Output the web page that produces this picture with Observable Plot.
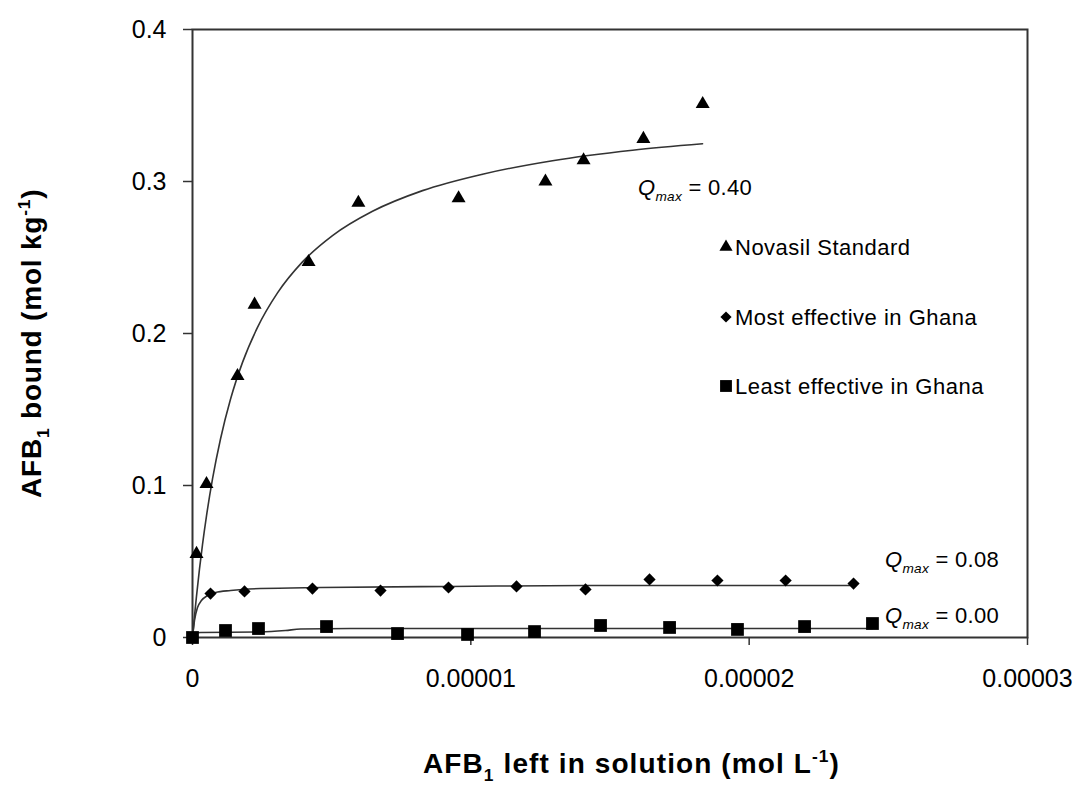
<!DOCTYPE html>
<html>
<head>
<meta charset="utf-8">
<script src="https://cdn.jsdelivr.net/npm/d3@7"></script>
<script src="https://cdn.jsdelivr.net/npm/@observablehq/plot@0.6"></script>
<style>
  html, body { margin: 0; padding: 0; background: #fff; }
  #chart svg { display: block; }
</style>
</head>
<body>
<div id="chart"></div>
<script>
// ---- tick labels ----
const xTicks = [0, 0.00001, 0.00002, 0.00003];
const xTickLabels = ["0", "0.00001", "0.00002", "0.00003"];
const yTicks = [0, 0.1, 0.2, 0.3, 0.4];
const yTickLabels = ["0", "0.1", "0.2", "0.3", "0.4"];

// ---- series names ----
const seriesNames = ["Novasil Standard", "Most effective in Ghana", "Least effective in Ghana"];
const qmaxLabels = ["0.40", "0.08", "0.00"];

// ---- measured points ----
const novasilX = [1.44e-7, 5.03e-7, 1.617e-6, 2.23e-6, 4.17e-6, 5.96e-6, 9.56e-6, 1.268e-5, 1.405e-5, 1.62e-5, 1.833e-5];
const novasilY = [0.055, 0.101, 0.172, 0.219, 0.247, 0.286, 0.289, 0.300, 0.314, 0.328, 0.351];

const mostX = [6.47e-7, 1.868e-6, 4.31e-6, 6.755e-6, 9.198e-6, 1.1641e-5, 1.412e-5, 1.642e-5, 1.886e-5, 2.131e-5, 2.375e-5];
const mostY = [0.0289, 0.0303, 0.0322, 0.0309, 0.0329, 0.0336, 0.0316, 0.0382, 0.0375, 0.0375, 0.0355];

const leastX = [0, 1.186e-6, 2.371e-6, 4.815e-6, 7.366e-6, 9.881e-6, 1.2288e-5, 1.466e-5, 1.714e-5, 1.958e-5, 2.199e-5, 2.443e-5];
const leastY = [0, 0.0046, 0.0059, 0.0072, 0.0026, 0.0020, 0.0039, 0.0079, 0.0066, 0.0053, 0.0072, 0.0092];

// ---- fitted curves ----
const novFitX = [0, 7.19e-8, 1.437e-7, 2.515e-7, 3.593e-7, 5.03e-7, 7.19e-7, 1.006e-6, 1.365e-6, 1.797e-6, 2.335e-6, 3.054e-6, 3.952e-6, 5.03e-6, 6.467e-6, 8.264e-6, 1.042e-5, 1.2935e-5, 1.581e-5, 1.8325e-5];
const novFitY = [0, 0.0142, 0.0272, 0.0451, 0.0611, 0.0800, 0.1043, 0.1306, 0.1567, 0.1810, 0.2040, 0.2267, 0.2471, 0.2644, 0.2804, 0.2940, 0.3048, 0.3137, 0.3206, 0.3248];

const mostFitX = [0, 7.2e-8, 1.8e-7, 3.2e-7, 5.4e-7, 8.3e-7, 1.37e-6, 2.44e-6, 4.6e-6, 9.27e-6, 1.466e-5, 2.375e-5];
const mostFitY = [0, 0.0112, 0.0197, 0.0243, 0.0276, 0.0296, 0.0309, 0.0322, 0.0329, 0.0336, 0.0342, 0.0342];

const leastFitX = [0, 1.08e-7, 2.87e-7, 2.44e-6, 3.34e-6, 3.88e-6, 5.67e-6, 2.443e-5];
const leastFitY = [0, 0.0026, 0.0033, 0.0036, 0.0046, 0.0056, 0.0059, 0.0059];

const pts = (xs, ys) => xs.map((x, i) => ({x, y: ys[i]}));

const INK = "#000";
const LINE = "#333";
const FONT = "'Liberation Sans', Arial, sans-serif";

const svg = Plot.plot({
  width: 1079,
  height: 787,
  marginLeft: 192,
  marginRight: 52,
  marginTop: 29,
  marginBottom: 150,
  style: {fontFamily: FONT, fontSize: "24px", color: INK, background: "#fff", overflow: "visible"},
  x: {domain: [0, 0.00003], label: null},
  y: {domain: [0, 0.4], label: null},
  marks: [
    Plot.frame({stroke: LINE, strokeWidth: 2}),
    Plot.axisX({ticks: xTicks, tickFormat: d => xTickLabels[xTicks.indexOf(d)], tickSize: 8, tickPadding: 24, label: null, stroke: LINE, strokeWidth: 1.5, fontSize: 25}),
    Plot.axisY({ticks: yTicks, tickFormat: d => yTickLabels[yTicks.indexOf(d)], tickSize: 9, tickPadding: 17, label: null, stroke: LINE, strokeWidth: 1.5, fontSize: 25}),
    Plot.line(pts(novFitX, novFitY), {x: "x", y: "y", curve: "monotone-x", stroke: LINE, strokeWidth: 1.6}),
    Plot.line(pts(mostFitX, mostFitY), {x: "x", y: "y", curve: "monotone-x", stroke: LINE, strokeWidth: 1.6}),
    Plot.line(pts(leastFitX, leastFitY), {x: "x", y: "y", curve: "monotone-x", stroke: LINE, strokeWidth: 1.6}),
    Plot.dot(pts(novasilX, novasilY), {x: "x", y: "y", symbol: "triangle", r: 5.2, fill: INK, stroke: "none"}),
    Plot.dot(pts(mostX, mostY), {x: "x", y: "y", symbol: "diamond2", r: 5.5, fill: INK, stroke: "none"}),
    Plot.dot(pts(leastX, leastY), {x: "x", y: "y", symbol: "square", r: 7.2, fill: INK, stroke: "none"})
  ]
});

document.getElementById("chart").appendChild(svg);

// ---- text helpers ----
const root = d3.select(svg);
function richText(g, parts, base) {
  const t = g.append("text")
    .attr("font-family", FONT)
    .attr("font-size", base.size)
    .attr("font-weight", base.weight || "normal")
    .attr("letter-spacing", base.spacing || 0)
    .attr("fill", INK)
    .attr("text-anchor", base.anchor || "start");
  let shift = 0;
  for (const p of parts) {
    const s = t.append("tspan").text(p.t);
    const target = p.sub ? base.size * 0.28 : p.sup ? -base.size * 0.38 : 0;
    if (target !== shift) { s.attr("dy", target - shift); shift = target; }
    if (p.sub || p.sup) s.attr("font-size", base.size * 0.62);
    if (p.italic) s.attr("font-style", "italic");
  }
  return t;
}

// axis titles
richText(root.append("g").attr("transform", "translate(423,773)"),
  [{t: "AFB"}, {t: "1", sub: true}, {t: " left in solution (mol L"}, {t: "-1", sup: true}, {t: ")"}],
  {size: 28, weight: "bold", spacing: 1.1});
richText(root.append("g").attr("transform", "translate(41,498) rotate(-90)"),
  [{t: "AFB"}, {t: "1", sub: true}, {t: " bound (mol kg"}, {t: "-1", sup: true}, {t: ")"}],
  {size: 28, weight: "bold", spacing: 0.8});

// Qmax annotations
const qPos = [[638, 195], [885, 567], [885, 623]];
qmaxLabels.forEach((v, i) => {
  richText(root.append("g").attr("transform", `translate(${qPos[i][0]},${qPos[i][1]})`),
    [{t: "Q", italic: true}, {t: "max", sub: true, italic: true}, {t: " = " + v}],
    {size: 22, spacing: 0.3});
});

// legend
const legSym = [d3.symbolTriangle, d3.symbolDiamond2, d3.symbolSquare];
const legSize = [75, 80, 140];
const legY = [247, 317, 386];
seriesNames.forEach((name, i) => {
  root.append("path")
    .attr("d", d3.symbol(legSym[i], legSize[i])())
    .attr("transform", `translate(726,${legY[i]})`)
    .attr("fill", INK);
  richText(root.append("g").attr("transform", `translate(735,${legY[i] + 8})`),
    [{t: name}], {size: 22, spacing: 0.5});
});
</script>
</body>
</html>
